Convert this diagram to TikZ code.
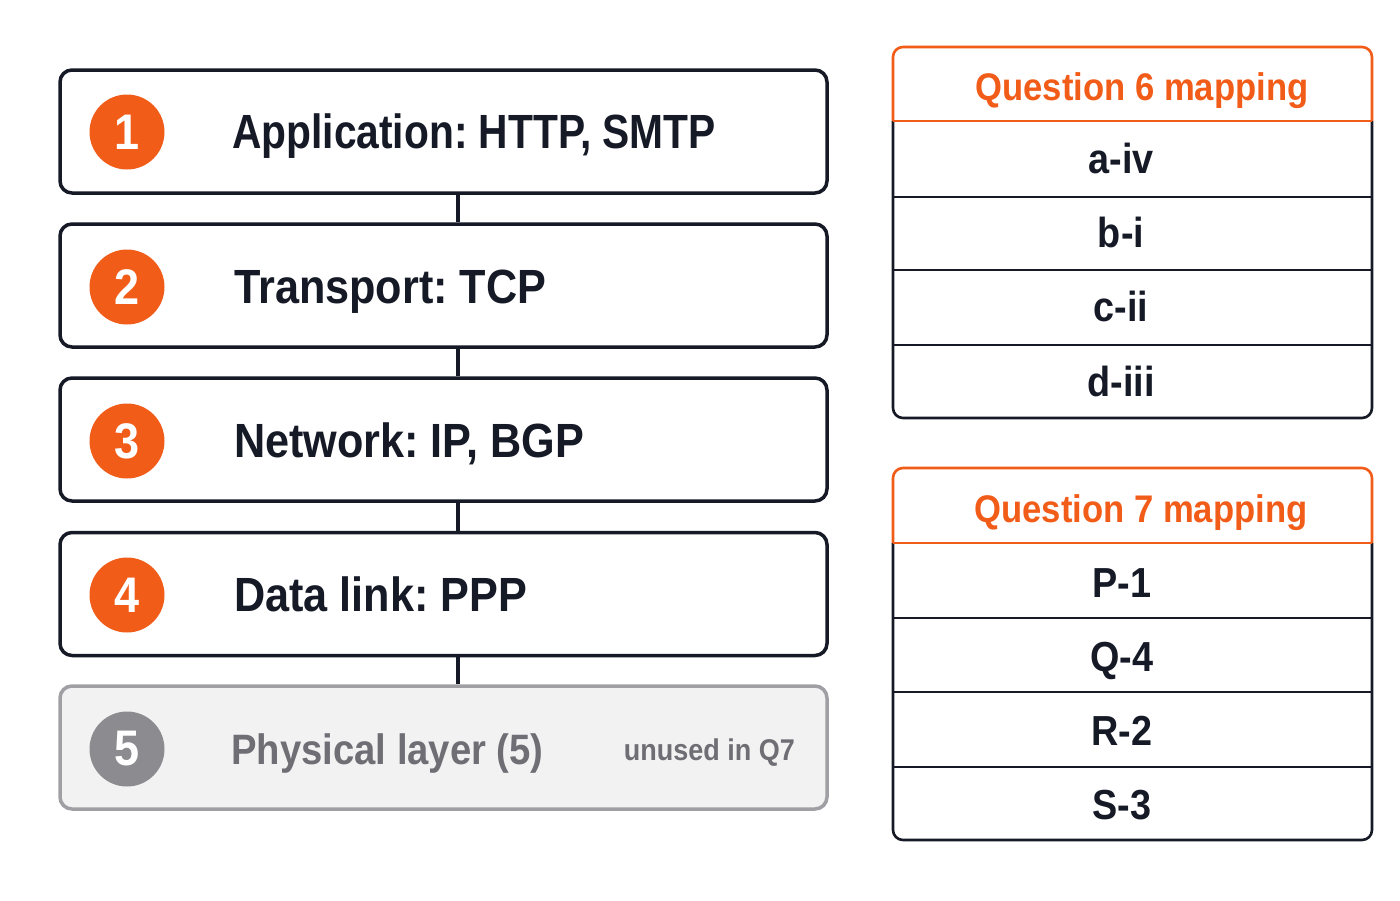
\documentclass[tikz,border=0pt]{standalone}
\usepackage{fontspec}
\setmainfont{Liberation Sans}[FakeStretch=0.9]
\frenchspacing
\definecolor{ink}{HTML}{151A26}
\definecolor{accent}{HTML}{F25C19}
\definecolor{paleFill}{HTML}{F2F2F3}
\definecolor{paleLine}{HTML}{A0A0A4}
\definecolor{paleText}{HTML}{6E6E74}
\definecolor{paleDisc}{HTML}{8C8C90}
\tikzset{
  layerbox/.style={draw=ink, line width=3.5pt, rounded corners=12pt, fill=white,
    minimum width=767pt, minimum height=123pt, inner sep=0pt},
  palebox/.style={layerbox, draw=paleLine, fill=paleFill},
  disc/.style={circle, fill=accent, minimum size=75pt, inner sep=0pt, text=white,
    font=\bfseries\fontsize{50}{52}\selectfont},
  paledisc/.style={disc, fill=paleDisc},
  layertext/.style={anchor=base west, inner sep=0pt, text=ink,
    font=\bfseries\fontsize{48}{50}\selectfont},
  conn/.style={draw=ink, line width=4pt},
  tblframe/.style={draw=ink, line width=2.6pt},
  tblhead/.style={draw=accent, line width=2.6pt},
  headtext/.style={anchor=base, inner sep=0pt, text=accent,
    font=\bfseries\fontsize{38.5}{40}\selectfont},
  rowtext/.style={anchor=base, inner sep=0pt, text=ink,
    font=\bfseries\fontsize{42}{44}\selectfont},
}
\begin{document}
\begin{tikzpicture}[x=1pt, y=-1pt]
\fill[white] (0,0) rectangle (1400,900);
\useasboundingbox (0,0) rectangle (1400,900);

% ---- layer boxes ----
\node[layerbox] (b1) at (443.5,131.5) {};
\node[layerbox] (b2) at (443.5,285.5) {};
\node[layerbox] (b3) at (443.5,439.5) {};
\node[layerbox] (b4) at (443.5,594) {};
\node[palebox]  (b5) at (443.5,747.5) {};

\draw[conn] ([xshift=14.5pt]b1.south) -- ([xshift=14.5pt]b2.north);
\draw[conn] ([xshift=14.5pt]b2.south) -- ([xshift=14.5pt]b3.north);
\draw[conn] ([xshift=14.5pt]b3.south) -- ([xshift=14.5pt]b4.north);
\draw[conn] ([xshift=14.5pt]b4.south) -- ([xshift=14.5pt]b5.north);

\node[disc] (c1) at (127,132) {1};
\node[disc] (c2) at (127,287) {2};
\node[disc] (c3) at (127,441) {3};
\node[disc] (c4) at (127,595) {4};
\node[paledisc] (c5) at (127,749) {5};

\node[layertext] (l1) at (232,148.5) {\scalebox{0.943}[1]{Application: HTTP, SMTP}};
\node[layertext] (l2) at (234,303) {Transport: TCP};
\node[layertext] (l3) at (234,457) {Network: IP, BGP};
\node[layertext] (l4) at (234,611.5) {Data link: PPP};
\node[layertext, text=paleText, font=\bfseries\fontsize{42.5}{44}\selectfont] (l5) at (231,764) {Physical layer (5)};
\node[anchor=base east, inner sep=0pt, text=paleText,
  font=\bfseries\fontsize{30}{32}\selectfont] (u5) at (795,760) {unused in Q7};

% ---- Question 6 table ----
\coordinate (t6nw) at (893,47);
\coordinate (t6hl) at (893,121);
\coordinate (t6hr) at (1372,121);
\coordinate (t6sw) at (893,418);
\coordinate (t6se) at (1372,418);
\draw[tblframe, rounded corners=10pt] (t6hl) -- (t6sw) -- (t6se) -- (t6hr);
\coordinate (r6a) at (893,197); \coordinate (r6ae) at (1372,197);
\coordinate (r6b) at (893,270); \coordinate (r6be) at (1372,270);
\coordinate (r6c) at (893,345); \coordinate (r6ce) at (1372,345);
\draw[tblframe] (r6a) -- (r6ae);
\draw[tblframe] (r6b) -- (r6be);
\draw[tblframe] (r6c) -- (r6ce);
\draw[tblhead, rounded corners=10pt] (t6hl) -- (t6nw) -- (1372,47) -- (t6hr);
\draw[tblhead] (t6hl) -- (t6hr);
\node[headtext] (h6) at (1142,100) {Question 6 mapping};
\node[rowtext] (q6a) at (1121,173) {a-iv};
\node[rowtext] (q6b) at (1121,247) {b-i};
\node[rowtext] (q6c) at (1121,321) {c-ii};
\node[rowtext] (q6d) at (1121,396) {d-iii};

% ---- Question 7 table ----
\coordinate (t7nw) at (893,468);
\coordinate (t7hl) at (893,543);
\coordinate (t7hr) at (1372,543);
\coordinate (t7sw) at (893,840);
\coordinate (t7se) at (1372,840);
\draw[tblframe, rounded corners=10pt] (t7hl) -- (t7sw) -- (t7se) -- (t7hr);
\coordinate (r7a) at (893,618); \coordinate (r7ae) at (1372,618);
\coordinate (r7b) at (893,692); \coordinate (r7be) at (1372,692);
\coordinate (r7c) at (893,767); \coordinate (r7ce) at (1372,767);
\draw[tblframe] (r7a) -- (r7ae);
\draw[tblframe] (r7b) -- (r7be);
\draw[tblframe] (r7c) -- (r7ce);
\draw[tblhead, rounded corners=10pt] (t7hl) -- (t7nw) -- (1372,468) -- (t7hr);
\draw[tblhead] (t7hl) -- (t7hr);
\node[headtext] (h7) at (1141,522) {Question 7 mapping};
\node[rowtext] (q7a) at (1122,597) {P-1};
\node[rowtext] (q7b) at (1122,671) {Q-4};
\node[rowtext] (q7c) at (1122,745) {R-2};
\node[rowtext] (q7d) at (1122,819) {S-3};
\end{tikzpicture}
\end{document}
